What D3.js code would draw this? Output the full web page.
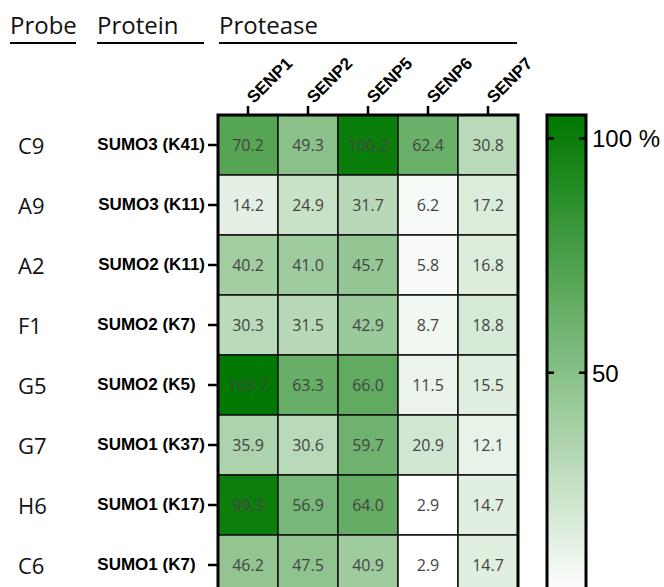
<!DOCTYPE html>
<html>
<head>
<meta charset="utf-8">
<script src="https://cdn.jsdelivr.net/npm/d3@7"></script>
<style>
  body { margin: 0; background: #fff; }
  svg { display: block; }
  .plabel { white-space: pre; }
</style>
</head>
<body>
<svg id="chart" width="664" height="587"></svg>
<script>
// data
var probes = ["C9", "A9", "A2", "F1", "G5", "G7", "H6", "C6"];
var proteins = ["SUMO3 (K41)", "SUMO3 (K11)", "SUMO2 (K11)", "SUMO2 (K7)  ",
                "SUMO2 (K5)  ", "SUMO1 (K37)", "SUMO1 (K17)", "SUMO1 (K7)  "];
var proteases = ["SENP1", "SENP2", "SENP5", "SENP6", "SENP7"];
var values = [
    [70.2, 49.3, 100.2, 62.4, 30.8],
    [14.2, 24.9, 31.7, 6.2, 17.2],
    [40.2, 41.0, 45.7, 5.8, 16.8],
    [30.3, 31.5, 42.9, 8.7, 18.8],
    [103.7, 63.3, 66.0, 11.5, 15.5],
    [35.9, 30.6, 59.7, 20.9, 12.1],
    [99.3, 56.9, 64.0, 2.9, 14.7],
    [46.2, 47.5, 40.9, 2.9, 14.7]
];
var headers = ["Probe", "Protein", "Protease"];
var legendTicks = [50, 100];

var svg = d3.select("#chart");
var sans = "'Open Sans', 'Noto Sans', sans-serif";
var arial = "'Liberation Sans', Arial, sans-serif";

var hm = {left: 218, top: 115, cell: 60};

var xScale = d3.scaleBand().domain(proteases)
    .range([hm.left, hm.left + hm.cell * proteases.length]);
var yScale = d3.scaleBand().domain(d3.range(probes.length))
    .range([hm.top, hm.top + hm.cell * probes.length]);

var color = d3.scaleLinear().domain([3, 104]).range(["#ffffff", "#007800"])
    .clamp(true).interpolate(d3.interpolateRgb);

// headers with underlines
var headerPos = [[10, 76], [97, 204], [219, 517]];
var hdr = svg.append("g");
headers.forEach(function (h, i) {
    hdr.append("text")
        .attr("x", headerPos[i][0])
        .attr("y", 34)
        .attr("font-family", sans)
        .attr("font-size", 24)
        .attr("fill", "#111")
        .text(h);
    hdr.append("line")
        .attr("x1", headerPos[i][0]).attr("x2", headerPos[i][1])
        .attr("y1", 43).attr("y2", 43)
        .attr("stroke", "#000").attr("stroke-width", 2);
});

// cells
var cells = [];
values.forEach(function (row, r) {
    row.forEach(function (v, c) {
        cells.push({r: r, c: proteases[c], v: v});
    });
});

var g = svg.append("g");
g.selectAll(".cell")
    .data(cells)
    .enter().append("rect")
    .attr("class", "cell")
    .attr("x", function (d) { return xScale(d.c); })
    .attr("y", function (d) { return yScale(d.r); })
    .attr("width", xScale.bandwidth())
    .attr("height", yScale.bandwidth())
    .attr("fill", function (d) { return color(d.v); })
    .attr("stroke", "#111")
    .attr("stroke-width", 1.5);

g.selectAll(".val")
    .data(cells)
    .enter().append("text")
    .attr("class", "val")
    .attr("x", function (d) { return xScale(d.c) + xScale.bandwidth() / 2; })
    .attr("y", function (d) { return yScale(d.r) + yScale.bandwidth() / 2 + 6; })
    .attr("text-anchor", "middle")
    .attr("font-family", sans)
    .attr("font-size", 16)
    .attr("fill", "#444")
    .text(function (d) { return d3.format(".1f")(d.v); });

// outer border
g.append("rect")
    .attr("x", hm.left).attr("y", hm.top)
    .attr("width", xScale.range()[1] - hm.left)
    .attr("height", yScale.range()[1] - hm.top)
    .attr("fill", "none")
    .attr("stroke", "#000")
    .attr("stroke-width", 3);

// top axis
var topAxis = svg.append("g")
    .attr("transform", "translate(0," + hm.top + ")")
    .call(d3.axisTop(xScale).tickSize(9).tickFormat(""));
topAxis.select(".domain").remove();
topAxis.selectAll("line").attr("stroke-width", 2.5);
topAxis.selectAll(".tick").append("text")
    .attr("transform", "translate(6,-11) rotate(-45)")
    .attr("text-anchor", "start")
    .attr("fill", "#000")
    .attr("font-family", arial)
    .attr("font-weight", "bold")
    .attr("font-size", 17)
    .text(function (d) { return d; });

// left axis (protein)
var leftAxis = svg.append("g")
    .attr("transform", "translate(" + hm.left + ",0)")
    .call(d3.axisLeft(yScale).tickSize(10).tickPadding(3)
        .tickFormat(function (i) { return proteins[i]; }));
leftAxis.select(".domain").remove();
leftAxis.selectAll("line").attr("stroke-width", 2.5);
leftAxis.selectAll("text")
    .attr("class", "plabel")
    .attr("fill", "#000")
    .attr("font-family", arial)
    .attr("font-weight", "bold")
    .attr("font-size", 17);

// probe labels
svg.append("g").selectAll("text")
    .data(probes)
    .enter().append("text")
    .attr("x", 18)
    .attr("y", function (d, i) { return yScale(i) + yScale.bandwidth() / 2 + 9; })
    .attr("font-family", sans)
    .attr("font-size", 22)
    .attr("fill", "#111")
    .text(function (d) { return d; });

// colour bar
var cb = {x: 547, w: 39};
var cbScale = d3.scaleLinear().domain([0, 105]).range([607, 115]);
var defs = svg.append("defs");
var grad = defs.append("linearGradient")
    .attr("id", "cbgrad")
    .attr("x1", 0).attr("x2", 0).attr("y1", 1).attr("y2", 0);
d3.range(0, 106, 5).forEach(function (v) {
    grad.append("stop")
        .attr("offset", v / 105)
        .attr("stop-color", color(v));
});
svg.append("rect")
    .attr("x", cb.x).attr("y", cbScale(105))
    .attr("width", cb.w).attr("height", cbScale(0) - cbScale(105))
    .attr("fill", "url(#cbgrad)")
    .attr("stroke", "#000")
    .attr("stroke-width", 3);

var cbTicks = svg.append("g").selectAll("g")
    .data(legendTicks)
    .enter().append("g");
cbTicks.append("line")
    .attr("x1", cb.x).attr("x2", cb.x + 7)
    .attr("y1", function (d) { return cbScale(d); })
    .attr("y2", function (d) { return cbScale(d); })
    .attr("stroke", "#000").attr("stroke-width", 2.5);
cbTicks.append("line")
    .attr("x1", cb.x + cb.w - 7).attr("x2", cb.x + cb.w)
    .attr("y1", function (d) { return cbScale(d); })
    .attr("y2", function (d) { return cbScale(d); })
    .attr("stroke", "#000").attr("stroke-width", 2.5);
cbTicks.append("text")
    .attr("x", cb.x + cb.w + 6)
    .attr("y", function (d) { return cbScale(d) + 9; })
    .attr("font-family", arial)
    .attr("font-size", 24)
    .attr("fill", "#000")
    .text(function (d) { return d === 100 ? "100 %" : d; });
</script>
</body>
</html>
